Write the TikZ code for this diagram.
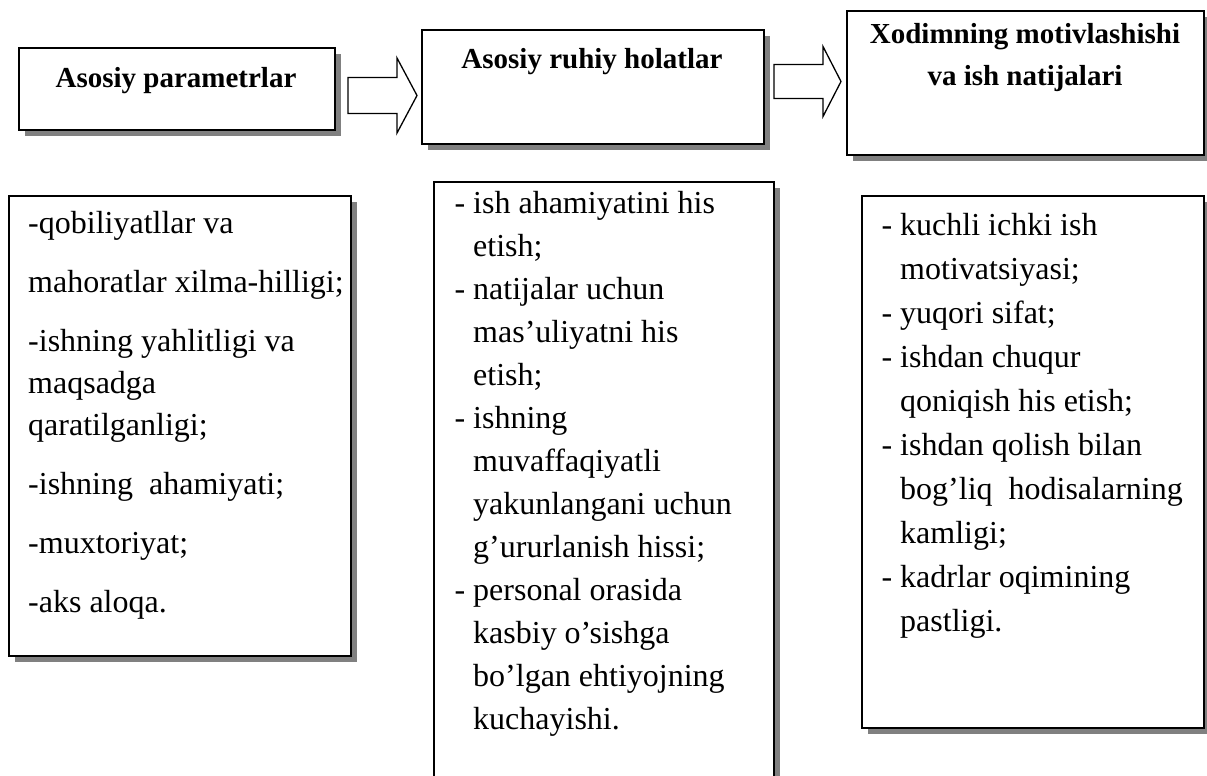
\documentclass[tikz,border=0pt]{standalone}
\usepackage{fontspec}
\setmainfont{Liberation Serif}
\usetikzlibrary{shadows}
\definecolor{shadegray}{RGB}{128,128,128}
\begin{document}
\begin{tikzpicture}[x=1pt,y=-1pt,
  panel/.style={rectangle, draw=black, line width=1.8pt, fill=white, inner sep=0pt,
    anchor=north west,
    drop shadow={shadow xshift=6pt, shadow yshift=-6pt, fill=shadegray, opacity=1}},
  heading/.style={font=\fontsize{29}{42}\selectfont\bfseries, align=center,
    anchor=base, inner sep=0pt},
  listtext/.style={font=\fontsize{32}{43}\selectfont, align=left,
    anchor=base west, inner sep=0pt},
  blockarrow/.style={draw=black, line width=1.3pt, fill=white, line join=miter}]
\useasboundingbox (0,0) rectangle (1207,776);
\fill[white] (0,0) rectangle (1207,776);
\clip (0,0) rectangle (1207,776);

% upper row: headings
\node[panel, minimum width=316pt, minimum height=82pt]  (b1) at (18,47)  {};
\node[panel, minimum width=342pt, minimum height=114pt] (b2) at (421,29) {};
\node[panel, minimum width=357pt, minimum height=144pt] (b3) at (846,10) {};

% (base anchor of a multi-line node sits on its last line)
\node[heading] (t1) at (176,88)  {Asosiy parametrlar};
\node[heading] (t2) at (592,68)  {Asosiy ruhiy holatlar};
\node[heading] (t3) at (1025,85) {Xodimning motivlashishi\\va ish natijalari};

% block arrows between the headings, drawn from their tail points
\coordinate (a1) at (348,95.5);
\coordinate (a2) at (774,81.5);
\draw[blockarrow] (a1) ++(0,-18) -- ++(49,0) -- ++(0,-19.5) -- ++(20,37.5)
  -- ++(-20,37.5) -- ++(0,-19.5) -- ++(-49,0) -- cycle;
\draw[blockarrow] (a2) ++(0,-17) -- ++(49,0) -- ++(0,-18) -- ++(18,35)
  -- ++(-18,35) -- ++(0,-18) -- ++(-49,0) -- cycle;

% lower row: lists
\node[panel, minimum width=342pt, minimum height=460pt] (b4) at (8,195)   {};
\node[panel, minimum width=340pt, minimum height=620pt] (b5) at (433,181) {};
\node[panel, minimum width=342pt, minimum height=532pt] (b6) at (861,195) {};

\node[listtext, font=\fontsize{32}{42}\selectfont] (l1) at (28,612) {%
-qobiliyatllar va\\[17pt]%
mahoratlar xilma-hilligi;\\[17pt]%
-ishning yahlitligi va\\%
maqsadga\\%
qaratilganligi;\\[17pt]%
-ishning\ \ ahamiyati;\\[17pt]%
-muxtoriyat;\\[17pt]%
-aks aloqa.};

\node[listtext] (l2) at (473,729) {%
\llap{-\ }ish ahamiyatini his\\%
etish;\\%
\llap{-\ }natijalar uchun\\%
mas’uliyatni his\\%
etish;\\%
\llap{-\ }ishning\\%
muvaffaqiyatli\\%
yakunlangani uchun\\%
g’ururlanish hissi;\\%
\llap{-\ }personal orasida\\%
kasbiy o’sishga\\%
bo’lgan ehtiyojning\\%
kuchayishi.};

\node[listtext, font=\fontsize{32}{44}\selectfont] (l3) at (900,631) {%
\llap{-\ }kuchli ichki ish\\%
motivatsiyasi;\\%
\llap{-\ }yuqori sifat;\\%
\llap{-\ }ishdan chuqur\\%
qoniqish his etish;\\%
\llap{-\ }ishdan qolish bilan\\%
bog’liq\ \ hodisalarning\\%
kamligi;\\%
\llap{-\ }kadrlar oqimining\\%
pastligi.};
\end{tikzpicture}
\end{document}
